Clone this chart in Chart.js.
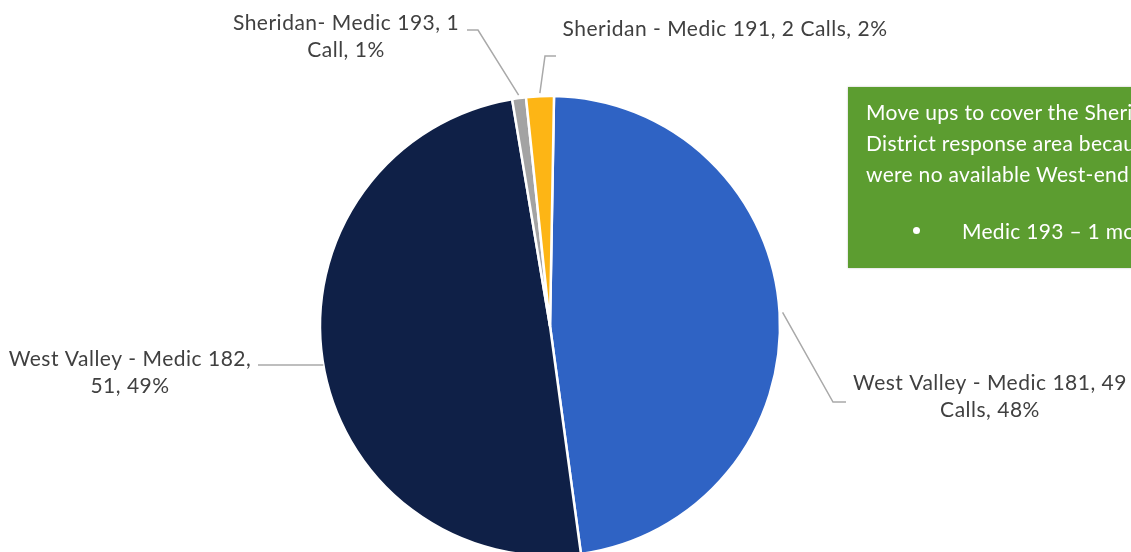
<!DOCTYPE html>
<html>
<head>
<meta charset="utf-8">
<script src="https://cdn.jsdelivr.net/npm/chart.js@4.4.1/dist/chart.umd.min.js"></script>
<style>
  html, body { margin: 0; padding: 0; width: 1131px; height: 552px; overflow: hidden; background: #fff; }
  #wrap { position: relative; width: 1131px; height: 552px; overflow: hidden; }
  #pie { position: absolute; left: 0; top: 0; }
  #note {
    position: absolute; left: 848px; top: 87px; width: 440px; height: 181px;
    background: #5c9d30; color: #fff; box-sizing: border-box;
    padding: 9px 0 0 18px; font-family: Lato, "Open Sans", sans-serif; font-size: 21px;
    letter-spacing: 0.3px; line-height: 31px; white-space: nowrap; box-shadow: 0 0 2px rgba(0,0,0,0.25);
  }
  #note .bullet { margin-top: 26px; position: relative; padding-left: 96px; }
  #note .bullet::before { content: ""; position: absolute; left: 47px; top: 12px; width: 7px; height: 7px; border-radius: 50%; background: #fff; }
</style>
</head>
<body>
<div id="wrap">
  <!-- canvas runs past the bottom of the page so the pie's lower rim is cut off -->
  <canvas id="pie" width="1131" height="580"></canvas>
  <div id="note">
    <div>Move ups to cover the Sheridan Fire</div>
    <div>District response area because there</div>
    <div>were no available West-end units:</div>
    <div class="bullet">Medic 193 – 1 move up</div>
  </div>
</div>
<script>
// Units and call counts, listed clockwise from 12 o'clock
const units = ['West Valley - Medic 181', 'West Valley - Medic 182', 'Sheridan- Medic 193', 'Sheridan - Medic 191'];
const calls = [49, 51, 1, 2];
const percents = [48, 49, 1, 2];
const colors = ['#2f63c4', '#0f2047', '#a3a3a3', '#fdb515'];

// Data label text, split into the lines it is set on
const labelLines = [
  [`${units[0]}, ${calls[0]}`, `Calls, ${percents[0]}%`],
  [`${units[1]},`, `${calls[1]}, ${percents[1]}%`],
  [`${units[2]}, ${calls[2]}`, `Call, ${percents[2]}%`],
  [`${units[3]}, ${calls[3]} Calls, ${percents[3]}%`]
];

// Where each label sits (centre of first line) and the bend points of its leader line.
// edgeY: start the leader where the pie's rim crosses that height instead of at the slice middle.
const labelPos = [
  { x: 990, y: 383, leader: [[833, 402], [846, 402]] },
  { x: 130, y: 359, edgeY: 365, leader: [[258, 365]] },
  { x: 346, y: 23, leader: [[478, 30], [467, 30]] },
  { x: 725, y: 29, leader: [[545, 56], [556, 56]] }
];

const labelPlugin = {
  id: 'pieLabels',
  afterDraw(chart) {
    const ctx = chart.ctx;
    const arcs = chart.getDatasetMeta(0).data;
    ctx.save();
    ctx.strokeStyle = '#a9a9a9';
    ctx.lineWidth = 1.5;
    arcs.forEach((arc, i) => {
      const pos = labelPos[i];
      let sx, sy;
      if (pos.edgeY !== undefined) {
        const r = arc.outerRadius;
        const dy = pos.edgeY - arc.y;
        sx = arc.x - Math.sqrt(r * r - dy * dy);
        sy = pos.edgeY;
      } else {
        const mid = (arc.startAngle + arc.endAngle) / 2;
        const r = arc.outerRadius + 3;
        sx = arc.x + Math.cos(mid) * r;
        sy = arc.y + Math.sin(mid) * r;
      }
      ctx.beginPath();
      ctx.moveTo(sx, sy);
      pos.leader.forEach(p => ctx.lineTo(p[0], p[1]));
      ctx.stroke();
    });
    ctx.fillStyle = '#404040';
    ctx.font = '21px Lato, "Open Sans", sans-serif';
    ctx.letterSpacing = '0.5px';
    ctx.textAlign = 'center';
    ctx.textBaseline = 'middle';
    labelLines.forEach((lines, i) => {
      lines.forEach((t, j) => ctx.fillText(t, labelPos[i].x, labelPos[i].y + j * 27.5));
    });
    ctx.restore();
  }
};

new Chart(document.getElementById('pie'), {
  type: 'pie',
  data: {
    labels: units,
    datasets: [{
      data: calls,
      backgroundColor: colors,
      borderColor: '#ffffff',
      borderWidth: 2.5
    }]
  },
  options: {
    responsive: false,
    animation: false,
    devicePixelRatio: 1,
    rotation: 1,
    layout: { padding: { top: 94.75, bottom: 22.75, left: 318.75, right: 349.75 } },
    plugins: { legend: { display: false }, tooltip: { enabled: false } }
  },
  plugins: [labelPlugin]
});
</script>
</body>
</html>
